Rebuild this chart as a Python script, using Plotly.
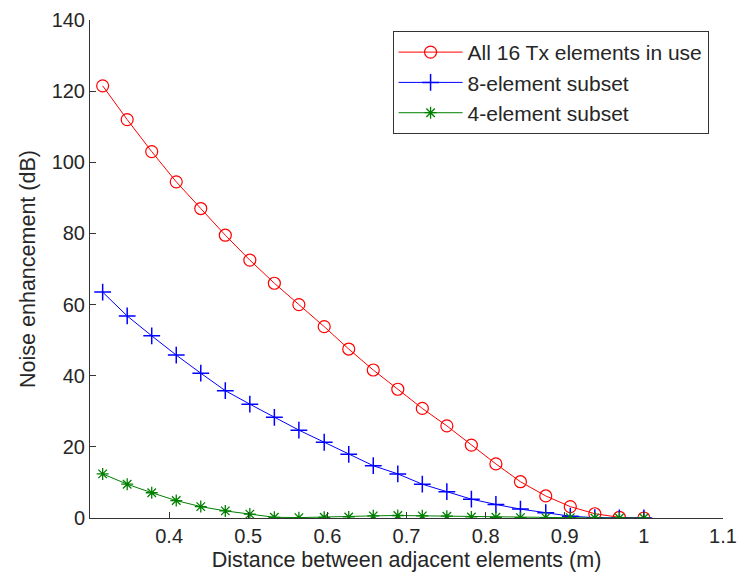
import plotly.graph_objects as go

x_dist = [0.316, 0.347, 0.378, 0.409, 0.440, 0.471, 0.502, 0.533, 0.564, 0.596,
          0.627, 0.658, 0.689, 0.720, 0.751, 0.782, 0.813, 0.844, 0.876, 0.907,
          0.938, 0.969, 1.000]

all16 = [121.5, 112.0, 103.0, 94.5, 87.0, 79.5, 72.5, 66.0, 60.0, 53.8,
         47.5, 41.6, 36.2, 30.8, 25.9, 20.5, 15.2, 10.2, 6.2, 3.2,
         1.2, 0.2, 0.0]

subset8 = [63.5, 56.8, 51.2, 45.8, 40.7, 35.8, 32.0, 28.3, 24.7, 21.3,
           17.9, 14.7, 12.4, 9.5, 7.4, 5.3, 3.8, 2.5, 1.5, 0.5,
           0.1, 0.0, 0.0]

subset4 = [12.4, 9.5, 7.1, 4.9, 3.2, 2.0, 1.1, 0.2, 0.1, 0.2,
           0.3, 0.6, 0.7, 0.6, 0.5, 0.3, 0.2, 0.1, 0.1, 0.1,
           0.0, 0.0, 0.0]

names = ["All 16 Tx elements in use", "8-element subset", "4-element subset"]
x_ticks = [0.4, 0.5, 0.6, 0.7, 0.8, 0.9, 1.0, 1.1]
x_tick_text = ["0.4", "0.5", "0.6", "0.7", "0.8", "0.9", "1", "1.1"]
y_ticks = [0, 20, 40, 60, 80, 100, 120, 140]

FONT = "Liberation Sans, Arial, sans-serif"
TXT = "#262626"

fig = go.Figure()
fig.add_trace(go.Scatter(
    x=x_dist, y=all16, name=names[0], mode="lines+markers",
    line=dict(color="#FF0000", width=1),
    marker=dict(symbol="circle-open", size=12, color="#FF0000", line=dict(width=1.2)),
))
fig.add_trace(go.Scatter(
    x=x_dist, y=subset8, name=names[1], mode="lines+markers",
    line=dict(color="#0000FF", width=1),
    marker=dict(symbol="cross-thin-open", size=12, color="#0000FF", line=dict(width=1.5, color="#0000FF")),
))
fig.add_trace(go.Scatter(
    x=x_dist, y=subset4, name=names[2], mode="lines+markers",
    line=dict(color="#008000", width=1),
    marker=dict(symbol="asterisk-open", size=10, color="#008000", line=dict(width=1.3, color="#008000")),
))

axis_common = dict(
    showline=True, linecolor="#333333", linewidth=1, mirror=False,
    ticks="inside", ticklen=6, tickcolor="#333333", tickwidth=1,
    showgrid=False, zeroline=False, automargin=False,
    tickfont=dict(family=FONT, size=20, color=TXT),
)

fig.update_layout(
    width=738, height=575,
    margin=dict(l=90, r=15, t=20, b=57),
    paper_bgcolor="white", plot_bgcolor="white",
    font=dict(family=FONT, size=21, color=TXT),
    xaxis=dict(range=[0.3, 1.1], tickvals=x_ticks, ticktext=x_tick_text,
               title=dict(text="Distance between adjacent elements (m)",
                          font=dict(family=FONT, size=21.5, color=TXT), standoff=5),
               **axis_common),
    yaxis=dict(range=[0, 140], tickvals=y_ticks,
               title=dict(text="Noise enhancement (dB)",
                          font=dict(family=FONT, size=21.5, color=TXT), standoff=10),
               **axis_common),
    legend=dict(x=0.478, y=0.978, xanchor="left", yanchor="top",
                bgcolor="white", bordercolor="#333333", borderwidth=1,
                font=dict(family=FONT, size=21, color=TXT),
                itemwidth=64, tracegroupgap=0),
    showlegend=True,
)

fig.write_html(
    "out.html",
    config={"displayModeBar": False},
    post_script="document.body.style.margin='0';document.body.style.overflow='hidden';",
)
